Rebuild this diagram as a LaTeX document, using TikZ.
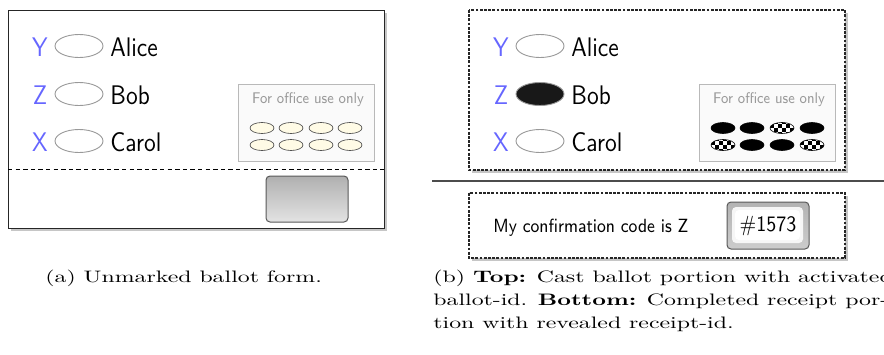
\documentclass[tikz,border=0pt]{standalone}
\usepackage{graphicx}
\usetikzlibrary{shapes.geometric}
\definecolor{letterblue}{RGB}{102,102,255}
\definecolor{ovalfill}{RGB}{255,251,230}
\definecolor{inkblack}{RGB}{24,24,24}
\newcommand{\capt}[1]{\scalebox{1.19}[0.83]{#1}}
\newcommand{\tall}[2]{\scalebox{1}[#1]{#2}}
\tikzset{
  letter/.style={text=letterblue, font=\sffamily\fontsize{12}{14}\selectfont, inner sep=0pt},
  cand/.style={font=\sffamily\fontsize{12}{14}\selectfont, anchor=west, inner sep=0pt},
  oval/.style={ellipse, draw=gray!80, line width=0.45pt, minimum width=24pt, minimum height=11.5pt, inner sep=0pt},
  soval/.style={ellipse, draw=black!75, line width=0.3pt, minimum width=12pt, minimum height=5.5pt, inner sep=0pt},
  blank/.style={soval, fill=ovalfill},
  solid/.style={soval, fill=black, draw=black},
  checkrim/.style={soval, draw=black, fill=none},
  officebox/.style={draw=gray!55, fill=gray!4, line width=0.5pt},
  officetext/.style={text=gray!80, font=\sffamily\fontsize{6.9}{8}\selectfont, inner sep=0pt},
  shadow/.style={fill=gray!45, draw=none},
  panel/.style={draw=black!85, line width=0.5pt, fill=white},
  dpanel/.style={draw=black!85, line width=0.55pt, dash pattern=on 1.4pt off 0.7pt, fill=white},
  captext/.style={anchor=base west, inner sep=0pt},
}
% checkered small oval: name, x, y
\newcommand{\checkoval}[3]{%
  \node[soval, fill=white, draw=none] (#1w) at (#2,#3) {};
  \begin{scope}[shift={(#2,#3)}]
    \clip (0,0) ellipse [x radius=12, y radius=5.5];
    \foreach \i in {-3,...,2}{
      \foreach \j in {-2,...,1}{
        \pgfmathtruncatemacro{\par@ity}{mod(\i+\j+10,2)}
        \ifnum\par@ity=0 \fill[black] (4*\i,4*\j) rectangle ++(4,4);\fi
      }
    }
  \end{scope}
  \node[checkrim] (#1) at (#2,#3) {};
}
\makeatletter
\newcommand{\checkovalx}[3]{%
  \node[soval, fill=white, draw=none] (#1w) at (#2,#3) {};
  \begin{scope}[shift={(#2,#3)}]
    \clip (0,0) ellipse [x radius=12, y radius=5.5];
    \foreach \i in {-3,...,2}{
      \foreach \j in {-2,...,1}{
        \pgfmathtruncatemacro{\chkpar}{mod(\i+\j+10,2)}
        \ifnum\chkpar=0 \fill[black] (4*\i,4*\j) rectangle ++(4,4);\fi
      }
    }
  \end{scope}
  \node[checkrim] (#1) at (#2,#3) {};
}
\makeatother
\begin{document}
\begin{tikzpicture}[x=0.5pt,y=-0.5pt]
\useasboundingbox (0,0) rectangle (884,354);
\begin{scope}
\clip (0,0) rectangle (884,354);
% ---------------- left panel (a)
\fill[shadow] (10.5,12.5) rectangle (386.5,230.5);
\draw[panel] (8,10) rectangle (384,228);
\draw[black, line width=0.5pt, dash pattern=on 2.2pt off 1.6pt] (8,169) -- (384,169);
\node[letter] (aY) at (40,47) {\tall{1.12}{Y}};
\node[letter] (aZ) at (40,95) {\tall{1.12}{Z}};
\node[letter] (aX) at (40,142) {\tall{1.12}{X}};
\node[oval] (aoY) at (79,46) {};
\node[oval] (aoZ) at (79,94) {};
\node[oval] (aoX) at (79,141) {};
\node[cand] (aA) at (110,47) {\tall{1.12}{Alice}};
\node[cand] (aB) at (110,95) {\tall{1.12}{Bob}};
\node[cand] (aC) at (110,142) {\tall{1.12}{Carol}};
\draw[officebox] (238,84) rectangle (374,161);
\node[officetext] (aoff) at (308,100) {\tall{1.12}{For office use only}};
\node[blank] (a11) at (262,128) {};
\node[blank] (a12) at (291,128) {};
\node[blank] (a13) at (321,128) {};
\node[blank] (a14) at (350,128) {};
\node[blank] (a21) at (262,145) {};
\node[blank] (a22) at (291,145) {};
\node[blank] (a23) at (321,145) {};
\node[blank] (a24) at (350,145) {};
\draw[rounded corners=2pt, draw=black!65, line width=0.5pt, top color=gray!62, bottom color=gray!22] (266,176) rectangle (348,222);
% ---------------- right panel (b) top
\fill[shadow] (471.5,12.5) rectangle (847.5,172.5);
\draw[dpanel] (469,10) rectangle (845,170);
\node[letter] (bY) at (501,47) {\tall{1.12}{Y}};
\node[letter] (bZ) at (501,95) {\tall{1.12}{Z}};
\node[letter] (bX) at (501,142) {\tall{1.12}{X}};
\node[oval] (boY) at (540,46) {};
\node[oval, fill=inkblack] (boZ) at (540,94) {};
\node[oval] (boX) at (540,141) {};
\node[cand] (bA) at (571,47) {\tall{1.12}{Alice}};
\node[cand] (bB) at (571,95) {\tall{1.12}{Bob}};
\node[cand] (bC) at (571,142) {\tall{1.12}{Carol}};
\draw[officebox] (699,84) rectangle (835,161);
\node[officetext] (boff) at (769,100) {\tall{1.12}{For office use only}};
\node[solid] (b11) at (723,128) {};
\node[solid] (b12) at (752,128) {};
\checkovalx{b13}{782}{128}
\node[solid] (b14) at (812,128) {};
\checkovalx{b21}{723}{145}
\node[solid] (b22) at (752,145) {};
\node[solid] (b23) at (782,145) {};
\checkovalx{b24}{812}{145}
% separator
\coordinate (sepL) at (432,181);
\coordinate (sepR) at (884,181);
\draw[black!70, line width=0.6pt] (sepL) -- (sepR);
% ---------------- right panel (b) bottom
\fill[shadow] (471.5,195.5) rectangle (847.5,260.5);
\draw[dpanel] (469,193) rectangle (845,258);
\node[anchor=west, inner sep=0pt, font=\sffamily\fontsize{8.3}{10}\selectfont] (conf) at (493,228) {\tall{1.15}{My confirmation code is Z}};
\draw[rounded corners=2pt, draw=black!65, line width=0.5pt, top color=gray!60, bottom color=gray!40] (727,202) rectangle (809,249);
\fill[rounded corners=2pt, white!93!gray] (732,207) rectangle (803,243);
\fill[rounded corners=2pt, white] (735,210) rectangle (800,240);
\node[inner sep=0pt, font=\sffamily\fontsize{10}{12}\selectfont] (code) at (768,226) {\tall{1.1}{\#1573}};
% ---------------- captions
\node[captext] (capa) at (45,282) {\capt{(a) Unmarked ballot form.}};
\node[captext] (capb1) at (433,282) {\capt{(b) \textbf{Top:} Cast ballot portion with activated}};
\node[captext] (capb2) at (433,305.5) {\capt{ballot-id. \textbf{Bottom:} Completed receipt por-}};
\node[captext] (capb3) at (433,328.5) {\capt{tion with revealed receipt-id.}};
\end{scope}
\end{tikzpicture}
\end{document}
